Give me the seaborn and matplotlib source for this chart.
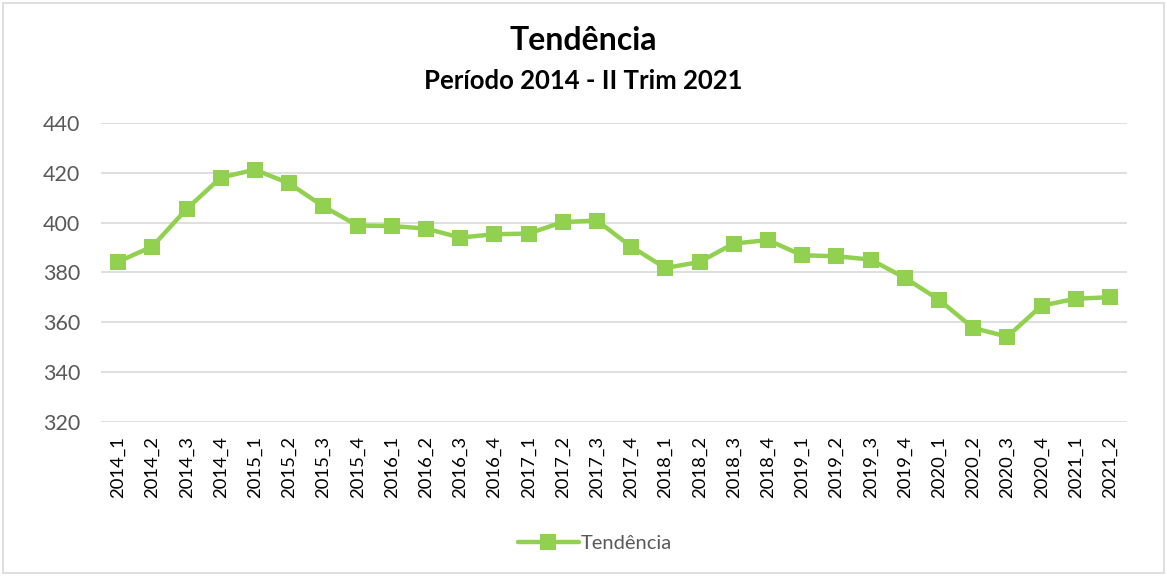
import matplotlib
matplotlib.use("Agg")
import matplotlib.pyplot as plt
import seaborn as sns
import pandas as pd
from matplotlib.patches import Rectangle

periods = ["2014_1", "2014_2", "2014_3", "2014_4", "2015_1", "2015_2", "2015_3", "2015_4",
           "2016_1", "2016_2", "2016_3", "2016_4", "2017_1", "2017_2", "2017_3", "2017_4",
           "2018_1", "2018_2", "2018_3", "2018_4", "2019_1", "2019_2", "2019_3", "2019_4",
           "2020_1", "2020_2", "2020_3", "2020_4", "2021_1", "2021_2"]
tendencia = [384.3, 390.4, 405.4, 418.0, 421.2, 415.7, 406.5, 398.8,
             398.6, 397.6, 394.0, 395.3, 395.6, 400.2, 400.8, 390.4,
             381.8, 384.2, 391.6, 393.0, 386.9, 386.5, 385.2, 377.9,
             369.1, 357.8, 354.3, 366.7, 369.5, 370.1]
yticks = [320, 340, 360, 380, 400, 420, 440]
series_name = "Tendência"

sns.set_theme(style="white")
plt.rcParams['font.family'] = ['Lato', 'DejaVu Sans']

fig = plt.figure(figsize=(11.67, 5.76), dpi=100)
ax = fig.add_axes([101 / 1167, 1 - 422.3 / 576, (1127 - 101) / 1167, (422.3 - 122.7) / 576])

df = pd.DataFrame({"periodo": periods, "valor": tendencia})
df["pos"] = range(len(periods))
color = "#92D050"
sns.lineplot(data=df, x="pos", y="valor", ax=ax, color=color, linewidth=3.2,
             marker="s", markersize=12, markeredgewidth=0, label=series_name, sort=False)

ax.set_xlim(-0.5, len(periods) - 0.5)
ax.set_ylim(320, 440)
ax.set_yticks(yticks)
ax.set_yticklabels([str(v) for v in yticks])
ax.set_xticks(range(len(periods)))
ax.set_xticklabels(periods, rotation=90)
ax.tick_params(axis="y", labelsize=15.5, colors="#595959", length=0, pad=15)
ax.tick_params(axis="x", labelsize=13.3, colors="#000000", length=0, pad=10)
ax.set_xlabel("")
ax.set_ylabel("")
ax.grid(axis="y", color="#D9D9D9", linewidth=1.2)
ax.set_axisbelow(True)
for s in ax.spines.values():
    s.set_visible(False)

leg = ax.legend(loc="center", bbox_to_anchor=(595 / 1167, 1 - 543 / 576),
                bbox_transform=fig.transFigure, frameon=False, fontsize=14.5,
                handlelength=3.0, handletextpad=0.1)
for t in leg.get_texts():
    t.set_color("#595959")

fig.text(0.5, 1 - 40 / 576, "Tendência", ha="center", va="center",
         fontsize=23, fontweight="bold", color="#000000")
fig.text(0.5, 1 - 81 / 576, "Período 2014 - II Trim 2021", ha="center", va="center",
         fontsize=18.5, fontweight="bold", color="#000000")

fig.patches.append(Rectangle((3 / 1167, 3 / 576), 1 - 6 / 1167, 1 - 6 / 576,
                             transform=fig.transFigure, fill=False,
                             edgecolor="#D9D9D9", linewidth=1.2))

fig.savefig("out.png", dpi=100)
